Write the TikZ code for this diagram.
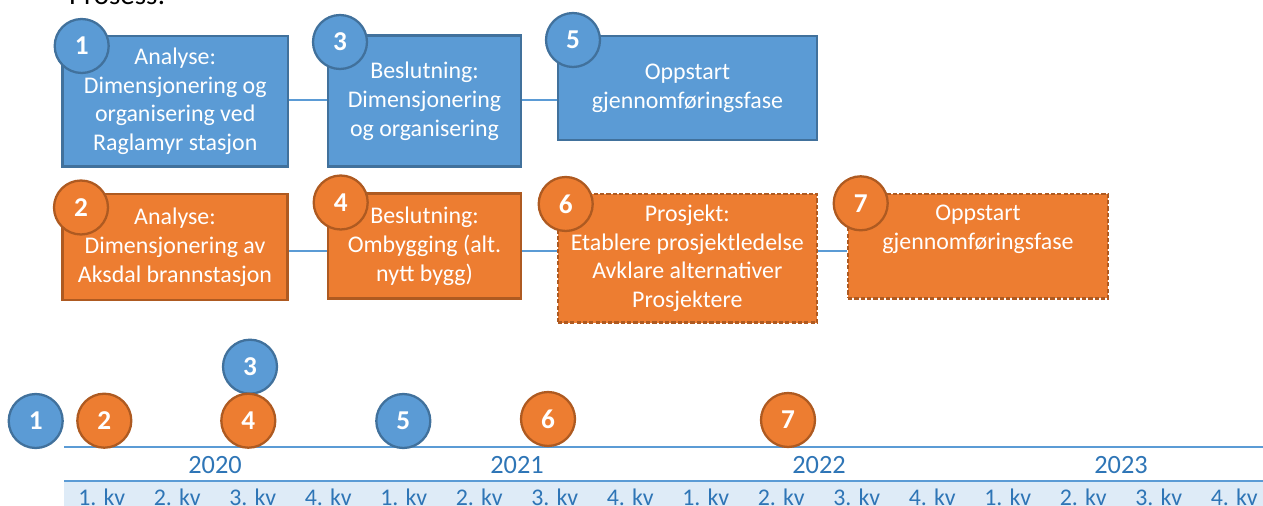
\documentclass[tikz,border=0pt]{standalone}
\usepackage{fontspec}
\setmainfont{Carlito}
\usetikzlibrary{calc}

\definecolor{boxBlue}{HTML}{5B9BD5}
\definecolor{lineBlue}{HTML}{41719C}
\definecolor{boxOrange}{HTML}{ED7D31}
\definecolor{lineOrange}{HTML}{AE5A21}
\definecolor{yearBlue}{HTML}{2E75B6}
\definecolor{bandBlue}{HTML}{DEEBF7}

\begin{document}
\begin{tikzpicture}[
    x = 0.02cm, y = -0.02cm,
    every node/.style = {font=\fontsize{13.6}{16.4}\selectfont},
    box size/.style 2 args = {minimum width=#1*0.02cm, minimum height=#2*0.02cm},
    stepBox/.style  = {draw, line width=1.2pt, align=center, text=white, inner sep=0pt},
    blueBox/.style  = {stepBox, fill=boxBlue, draw=lineBlue},
    orangeBox/.style = {stepBox, fill=boxOrange, draw=lineOrange},
    planBox/.style  = {orangeBox, dash pattern=on 2.4pt off 1.2pt},
    numDot/.style   = {circle, line width=1.3pt, minimum size=1.08cm, inner sep=0pt,
                       text=white, font=\fontsize{15.5}{18}\selectfont\bfseries},
    blueDot/.style  = {numDot, fill=boxBlue, draw=lineBlue},
    orangeDot/.style = {numDot, fill=boxOrange, draw=lineOrange},
    link/.style     = {boxBlue, line width=0.7pt},
    axis/.style     = {boxBlue, line width=1.2pt},
    ]

    % Determines the boundries
    \path[use as bounding box] (0,0) rectangle (1263,506);

    \def\qw{75.5}           % width of one quarter
    \def\tx{64}             % start of the time line

    % Heading, cut by the upper edge
    \node[anchor=base west, font=\fontsize{16.5}{20}\selectfont] (title) at (63,4.3) {Prosess:};

    % Blue row of steps
    \node[blueBox, box size={225.5}{130.5}] (B1) at (175.2,101.2)
        {Analyse:\\Dimensjonering og\\organisering ved\\Raglamyr stasjon};
    \node[blueBox, box size={193}{131}] (B3) at (424.5,101)
        {Beslutning:\\Dimensjonering\\og organisering};
    \node[blueBox, box size={259}{104}] (B5) at (687.5,88)
        {Oppstart\\gjennomføringsfase};

    % Orange row of steps
    \node[orangeBox, box size={225}{106}] (B2) at (175,247)
        {Analyse:\\Dimensjonering av\\Aksdal brannstasjon};
    \node[orangeBox, box size={193}{105}] (B4) at (424.5,246)
        {Beslutning:\\Ombygging (alt.\\nytt bygg)};
    \node[planBox, box size={259.5}{128.5}] (B6) at (687.3,258.3)
        {Prosjekt:\\Etablere prosjektledelse\\Avklare alternativer\\Prosjektere};
    \node[planBox, box size={260}{104.5}] (B7) at (978,246.2)
        {Oppstart\\gjennomføringsfase\\\strut};

    % Links between the steps
    \coordinate (rowA) at (0,100);
    \coordinate (rowB) at (0,251);
    \foreach \a/\b/\r in {B1/B3/rowA, B3/B5/rowA, B2/B4/rowB, B4/B6/rowB, B6/B7/rowB}{
        \draw[link] (\a.east |- \r) -- (\b.west |- \r);
    }

    % Numbers on the steps
    \foreach \n/\s/\x/\y in {1/blueDot/81.7/46, 3/blueDot/340/42, 5/blueDot/573/40,
                             2/orangeDot/81/207.5, 4/orangeDot/340.7/202.5,
                             6/orangeDot/565.7/204, 7/orangeDot/860.7/203.3}{
        \node[\s] (N\n) at (\x,\y) {\n};
    }

    % Time line with years and quarters
    \coordinate (T0) at (\tx,446.7);
    \coordinate (T1) at (1263,446.7);
    \coordinate (Q0) at (\tx,480.7);
    \coordinate (Q1) at (1263,480.7);
    \fill[bandBlue] (Q0) rectangle (1263,510);
    \draw[axis] (T0) -- (T1);
    \draw[axis] (Q0) -- (Q1);

    \foreach \yr [count=\i from 0] in {2020,2021,2022,2023}{
        \node[anchor=base, text=yearBlue, font=\fontsize{15}{18}\selectfont]
            (Y\yr) at (\tx+4*\qw*\i+2*\qw, 473.3) {\yr};
    }
    \foreach \q in {0,...,15}{
        \pgfmathtruncatemacro\k{mod(\q,4)+1}
        \node[anchor=base, text=yearBlue] (K\q) at (\tx+\qw*\q+0.5*\qw, 505.5) {\k. kv};
    }

    % Numbers on the time line
    \foreach \n/\s/\x/\y in {1/blueDot/35.7/421, 2/orangeDot/104.3/420.7, 3/blueDot/250/366.7,
                             4/orangeDot/248.3/420.7, 5/blueDot/403.3/421,
                             6/orangeDot/548/419, 7/orangeDot/788/420}{
        \node[\s] (M\n) at (\x,\y) {\n};
    }
\end{tikzpicture}
\end{document}
